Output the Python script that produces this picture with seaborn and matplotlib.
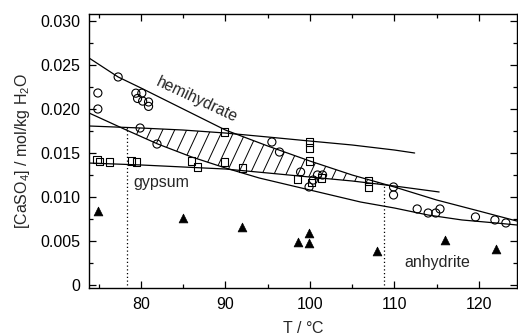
import numpy as np
import pandas as pd
import matplotlib
matplotlib.use("Agg")
import matplotlib.pyplot as plt
import seaborn as sns
from matplotlib.ticker import MultipleLocator, FuncFormatter

# ---- solubility curves (T in °C, [CaSO4] in mol/kg H2O) ----
hemi_T = [73.85, 77.3, 80, 85, 90, 95, 100, 105, 110, 115, 120, 124.5]
hemi_c = [0.0258, 0.02364, 0.02239, 0.0200, 0.01761, 0.0158, 0.01409,
          0.0125, 0.01114, 0.00966, 0.00841, 0.00727]

upper_T = [73.85, 80, 85, 90, 95, 100, 105, 110, 112.4]
upper_c = [0.01807, 0.01784, 0.01761, 0.01727, 0.01682, 0.01636, 0.01591,
           0.01534, 0.0150]

lower_T = [73.85, 78, 82, 86, 90, 94, 98, 102, 106, 110, 114, 118, 122, 124.5]
lower_c = [0.01955, 0.01773, 0.01602, 0.01455, 0.0133, 0.01216, 0.01125,
           0.01034, 0.00943, 0.00875, 0.00795, 0.00739, 0.00705, 0.00682]

gyp_T = [73.85, 80, 85, 90, 95, 100, 105, 110, 115.3]
gyp_c = [0.01386, 0.01364, 0.01341, 0.01318, 0.01273, 0.01227, 0.01182,
         0.01125, 0.01057]

# ---- measured points ----
circ_T = [74.9, 74.9, 77.3, 79.4, 80.1, 79.6, 80.2, 80.9, 80.9, 79.9, 81.9,
          95.5, 96.4, 98.9, 99.9, 100.4, 100.9, 101.5, 109.9, 109.9, 112.7,
          114.0, 114.9, 115.4, 119.6, 121.9, 123.2]
circ_c = [0.02182, 0.0200, 0.02364, 0.0218, 0.0218, 0.0212, 0.0209, 0.0208,
          0.0203, 0.01784, 0.01602, 0.01625, 0.01511, 0.01284, 0.01114,
          0.01193, 0.0125, 0.0125, 0.01114, 0.01023, 0.00864, 0.00818,
          0.00818, 0.00864, 0.00773, 0.00739, 0.00705]

sq_T = [74.8, 75.1, 76.3, 78.9, 79.5, 86.0, 86.7, 89.9, 89.9, 92.0, 99.9,
        99.9, 99.9, 98.5, 100.2, 101.4, 106.9, 106.9]
sq_c = [0.0143, 0.0140, 0.01398, 0.01409, 0.01398, 0.01409, 0.01341,
        0.01739, 0.01398, 0.0133, 0.01625, 0.01557, 0.01409, 0.01205,
        0.0117, 0.01216, 0.01182, 0.01114]

tri_T = [74.9, 85.0, 92.0, 98.6, 99.9, 99.9, 107.9, 116.0, 122.0]
tri_c = [0.00841, 0.00761, 0.00659, 0.00489, 0.00591, 0.00477, 0.00386,
         0.00511, 0.00409]

# transition temperatures (dotted markers) and the height they reach
trans_T = [78.3, 108.8]
trans_c = [0.0177, 0.0113]

sns.set_theme(style="ticks")
plt.rcParams["font.family"] = ["Liberation Sans", "DejaVu Sans"]
plt.rcParams["mathtext.fontset"] = "custom"
plt.rcParams["mathtext.rm"] = "Liberation Sans"
plt.rcParams["mathtext.it"] = "Liberation Sans:italic"
plt.rcParams["mathtext.default"] = "regular"
FS = 11.5

fig = plt.figure(figsize=(5.18, 3.36), dpi=100)
ax = fig.add_axes([0.1718, 0.1429, 0.826, 0.8155])
ax.set_xlim(73.85, 124.5)
ax.set_ylim(-0.00034, 0.0308)

line_kw = dict(color="black", linewidth=0.9, sort=False, estimator=None,
               legend=False)
for T, c in [(hemi_T, hemi_c), (upper_T, upper_c), (lower_T, lower_c),
             (gyp_T, gyp_c)]:
    sns.lineplot(x=T, y=c, ax=ax, **line_kw)

# hatched band: below hemihydrate/upper curve, above lower/gypsum curve
grid = np.linspace(76, 112, 600)
top = np.minimum(np.interp(grid, hemi_T, hemi_c), np.interp(grid, upper_T, upper_c))
bot = np.maximum(np.interp(grid, lower_T, lower_c), np.interp(grid, gyp_T, gyp_c))
band = ax.fill_between(grid, bot, top, where=top > bot, interpolate=True,
                       facecolor="none", edgecolor="none")
fig.canvas.draw()
bb = ax.get_window_extent()
W, H = bb.width, bb.height
ang = np.deg2rad(65)
step = 12.0
for k in range(-40, 60):
    xb = k * step
    ln, = ax.plot([xb / W, (xb + H / np.tan(ang)) / W], [0, 1],
                  transform=ax.transAxes, color="black", lw=0.7)
    for p in band.get_paths():
        ln.set_clip_path(p, ax.transData)

# dotted transition lines
for T, c in zip(trans_T, trans_c):
    ax.plot([T, T], [0, c], color="black", lw=0.9, linestyle=(0, (1, 2)))

sns.scatterplot(x=circ_T, y=circ_c, ax=ax, marker="o", s=34, fc="none",
                ec="black", linewidth=0.8, zorder=3)
sns.scatterplot(x=sq_T, y=sq_c, ax=ax, marker="s", s=26, fc="none",
                ec="black", linewidth=0.8, zorder=3)
sns.scatterplot(x=tri_T, y=tri_c, ax=ax, marker="^", s=40, color="black",
                ec="black", linewidth=0.5, zorder=3)

ax.text(86.6, 0.0210, "hemihydrate", rotation=-25, rotation_mode="anchor",
        ha="center", va="center", fontsize=FS)
ax.text(79.05, 0.0117, "gypsum", ha="left", va="center", fontsize=FS)
ax.text(111.2, 0.0026, "anhydrite", ha="left", va="center", fontsize=FS)

ax.xaxis.set_major_locator(MultipleLocator(10))
ax.xaxis.set_minor_locator(MultipleLocator(5))
ax.yaxis.set_major_locator(MultipleLocator(0.005))
ax.yaxis.set_minor_locator(MultipleLocator(0.0025))
ax.yaxis.set_major_formatter(FuncFormatter(lambda v, p: "0" if abs(v) < 1e-9 else f"{v:.3f}"))
ax.tick_params(which="both", direction="in", top=True, right=True,
               width=0.9, labelsize=FS, pad=6.5, colors="black")
ax.tick_params(which="major", length=5)
ax.tick_params(which="minor", length=3)
for s in ax.spines.values():
    s.set_linewidth(1.0)
    s.set_color("black")

ax.set_xlabel("$T$ / °C", fontsize=FS, labelpad=6)
ax.set_ylabel("[CaSO$_4$] / mol/kg H$_2$O", fontsize=FS, labelpad=6)

fig.savefig("out.png", dpi=100, facecolor="white")
